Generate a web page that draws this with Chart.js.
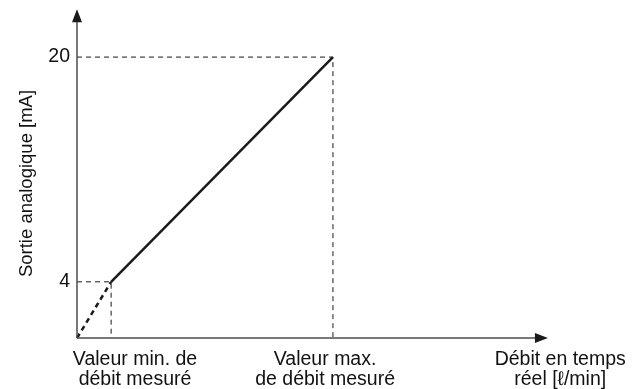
<!DOCTYPE html>
<html>
<head>
<meta charset="utf-8">
<script src="https://cdn.jsdelivr.net/npm/chart.js@4/dist/chart.umd.min.js"></script>
<style>
    body { margin: 0; background: #fff; }
</style>
</head>
<body>
<canvas id="debitChart" width="640" height="389"></canvas>
<script>
// points caractéristiques de la courbe (débit, sortie mA)
const zeroPoint = [0, 0];
const minPoint = [1, 4];
const maxPoint = [7.5, 20];

// graduations
const yTicks = [4, 20];
const xTickValues = [1.7, 7.27, 14.16];
const xTickLabels = [
    ['Valeur min. de', 'débit mesuré'],
    ['Valeur max.', 'de débit mesuré'],
    ['Débit en temps', 'réel [ℓ/min]']
];
const yTitle = 'Sortie analogique [mA]';

// longueur des axes fléchés
const xAxisEnd = 13.8;
const yAxisEnd = 23.4;

const fontFamily = '"Liberation Sans", Arial, Helvetica, sans-serif';
const inkColor = '#1a1a1a';
const axisColor = '#4d4d4d';

function pt(p) {
    return { x: p[0], y: p[1] };
}

// flèches des axes dessinées par-dessus
const arrowAxes = {
    id: 'arrowAxes',
    afterDatasetsDraw(chart) {
        const ctx = chart.ctx;
        const xs = chart.scales.x, ys = chart.scales.y;
        const x0 = xs.getPixelForValue(0), y0 = ys.getPixelForValue(0);
        const xEnd = xs.getPixelForValue(xAxisEnd);
        const yEnd = ys.getPixelForValue(yAxisEnd);
        ctx.save();
        ctx.strokeStyle = axisColor;
        ctx.fillStyle = inkColor;
        ctx.lineWidth = 1.5;
        ctx.beginPath();
        ctx.moveTo(x0, y0);
        ctx.lineTo(x0, yEnd + 10);
        ctx.moveTo(x0, y0);
        ctx.lineTo(xEnd - 10, y0);
        ctx.stroke();

        ctx.beginPath();
        ctx.moveTo(x0, yEnd);
        ctx.lineTo(x0 - 5, yEnd + 13);
        ctx.lineTo(x0 + 5, yEnd + 13);
        ctx.closePath();
        ctx.fill();

        ctx.beginPath();
        ctx.moveTo(xEnd, y0);
        ctx.lineTo(xEnd - 13, y0 - 5);
        ctx.lineTo(xEnd - 13, y0 + 5);
        ctx.closePath();
        ctx.fill();
        ctx.restore();
    }
};

new Chart(document.getElementById('debitChart'), {
    type: 'line',
    data: {
        datasets: [
            {
                // repère 20 mA
                data: [pt([0, maxPoint[1]]), pt(maxPoint), pt([maxPoint[0], 0])],
                borderColor: inkColor,
                borderWidth: 1,
                borderDash: [5, 4]
            },
            {
                // repère 4 mA
                data: [pt([0, minPoint[1]]), pt(minPoint), pt([minPoint[0], 0])],
                borderColor: inkColor,
                borderWidth: 1,
                borderDash: [5, 4]
            },
            {
                // prolongement sous le débit min.
                data: [pt(zeroPoint), pt(minPoint)],
                borderColor: inkColor,
                borderWidth: 2.5,
                borderDash: [5, 4]
            },
            {
                data: [pt(minPoint), pt(maxPoint)],
                borderColor: inkColor,
                borderWidth: 2.5
            }
        ]
    },
    options: {
        responsive: false,
        animation: false,
        devicePixelRatio: 1,
        layout: { padding: { top: 29, right: 17, bottom: 0, left: 0 } },
        elements: {
            point: { radius: 0 },
            line: { tension: 0, fill: false }
        },
        datasets: { line: { clip: false } },
        plugins: {
            legend: { display: false },
            tooltip: { enabled: false }
        },
        scales: {
            x: {
                type: 'linear',
                min: 0,
                max: 16,
                grid: { display: false, drawTicks: false },
                border: { display: false },
                afterBuildTicks: scale => {
                    scale.ticks = xTickValues.map(v => ({ value: v }));
                },
                afterFit: scale => { scale.height = 51; },
                ticks: {
                    autoSkip: false,
                    maxRotation: 0,
                    padding: 12,
                    color: '#111',
                    font: { family: fontFamily, size: 19.5, lineHeight: 1 },
                    callback: (value, i) => xTickLabels[i]
                }
            },
            y: {
                type: 'linear',
                min: 0,
                max: 22,
                grid: { display: false, drawTicks: false },
                border: { display: false },
                afterBuildTicks: scale => {
                    scale.ticks = yTicks.map(v => ({ value: v }));
                },
                afterFit: scale => { scale.width = 77; },
                ticks: {
                    padding: 7,
                    color: '#111',
                    font: { family: fontFamily, size: 19.5 }
                },
                title: {
                    display: true,
                    text: yTitle,
                    color: '#111',
                    padding: { top: 16, bottom: 0 },
                    font: { family: fontFamily, size: 18.5 }
                }
            }
        }
    },
    plugins: [arrowAxes]
});
</script>
</body>
</html>
